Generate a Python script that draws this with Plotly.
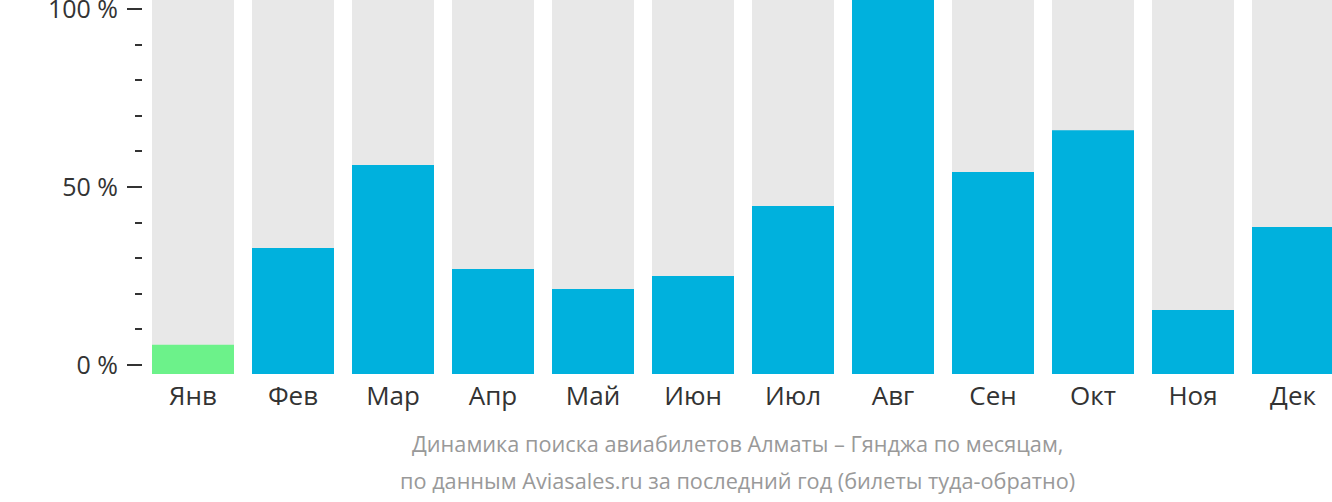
import plotly.graph_objects as go

months = ["Янв", "Фев", "Мар", "Апр", "Май", "Июн", "Июл", "Авг", "Сен", "Окт", "Ноя", "Дек"]
values = [7.8, 33.7, 55.9, 28.1, 22.7, 26.2, 44.9, 100, 54.0, 65.2, 17.1, 39.3]
full = [100] * 12
highlight_month = "Янв"
y_tick_vals = [0, 50, 100]
y_tick_text = ["0 %", "50 %", "100 %"]
subtitle_1 = "Динамика поиска авиабилетов Алматы – Гянджа по месяцам,"
subtitle_2 = "по данным Aviasales.ru за последний год (билеты туда-обратно)"

BLUE = "#00B1DD"
GREEN = "#6CF28A"
GREY = "#E8E8E8"
FONT = "Open Sans"

colors = [GREEN if m == highlight_month else BLUE for m in months]

fig = go.Figure()
fig.add_trace(go.Bar(x=months, y=full, marker=dict(color=GREY, line=dict(width=0)),
                     hoverinfo="skip", showlegend=False))
fig.add_trace(go.Bar(x=months, y=values, marker=dict(color=colors, line=dict(width=0)),
                     showlegend=False))
# invisible trace to anchor the tick axis
fig.add_trace(go.Scatter(x=[months[0]], y=[0], yaxis="y2", mode="markers",
                         marker=dict(opacity=0), hoverinfo="skip", showlegend=False))

plot_h = 374.0
off = 9.0
px_per_unit = (plot_h - 2 * off) / 100.0
lo = -off / px_per_unit
hi = 100 + off / px_per_unit

fig.update_layout(
    width=1332, height=502,
    margin=dict(l=143, r=0, t=0, b=128, autoexpand=False),
    paper_bgcolor="white", plot_bgcolor="white",
    barmode="overlay", bargap=0.18,
    font=dict(family=FONT, color="#333333"),
    xaxis=dict(type="category", range=[-0.5, 11.39], showgrid=False, zeroline=False,
               showline=False, ticks="", tickfont=dict(size=26, color="#333333"),
               ticklabelstandoff=4, automargin=False),
    yaxis=dict(range=[0, 100], visible=False, fixedrange=True, automargin=False),
    yaxis2=dict(overlaying="y", side="left", range=[lo, hi], showgrid=False,
                zeroline=False, showline=False, automargin=False,
                tickvals=y_tick_vals, ticktext=y_tick_text,
                ticks="outside", ticklen=15, tickwidth=2, tickcolor="#333333",
                tickfont=dict(size=25, color="#333333"), ticklabelstandoff=4,
                ticklabeloverflow="allow",
                minor=dict(dtick=10, tick0=0, ticks="outside", ticklen=7,
                           tickwidth=2, tickcolor="#333333", showgrid=False)),
    annotations=[
        dict(text=subtitle_1, xref="paper", yref="paper", x=0.5, y=-0.185,
             xanchor="center", yanchor="middle", showarrow=False,
             font=dict(size=21.7, color="#999999", family=FONT)),
        dict(text=subtitle_2, xref="paper", yref="paper", x=0.5, y=-0.285,
             xanchor="center", yanchor="middle", showarrow=False,
             font=dict(size=21.7, color="#999999", family=FONT)),
    ],
)

fig.write_html("out.html")
